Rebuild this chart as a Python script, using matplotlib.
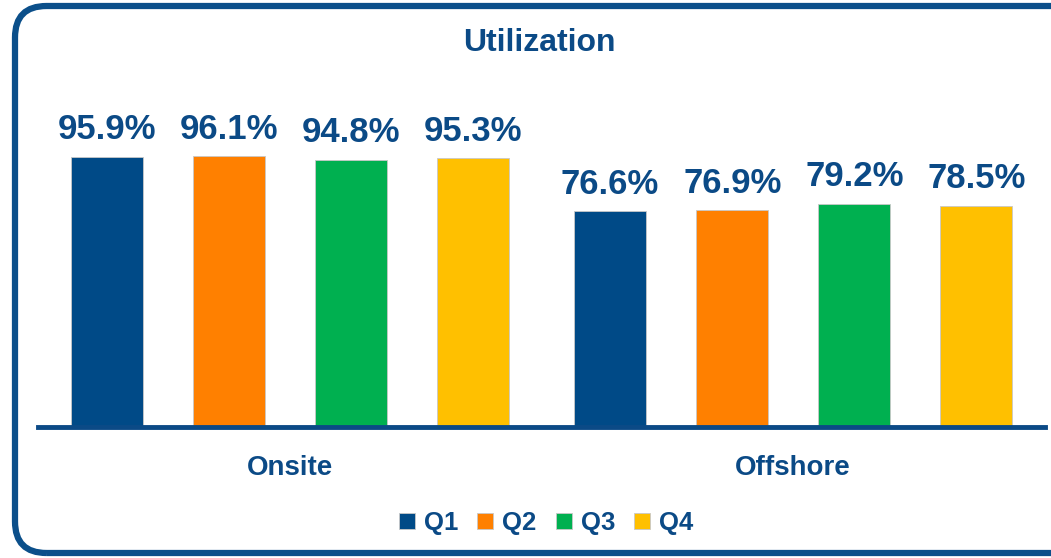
import matplotlib.pyplot as plt
import numpy as np
from matplotlib.patches import FancyBboxPatch
from matplotlib import font_manager

# data
categories = ['Onsite', 'Offshore']
quarters = ['Q1', 'Q2', 'Q3', 'Q4']
q1 = [95.9, 76.6]
q2 = [96.1, 76.9]
q3 = [94.8, 79.2]
q4 = [95.3, 78.5]
series = [q1, q2, q3, q4]
colors = ['#004A87', '#FF8000', '#00B050', '#FFC000']
text_blue = '#0B4A86'

names = {f.name for f in font_manager.fontManager.ttflist}
fam = 'Liberation Sans Narrow' if 'Liberation Sans Narrow' in names else 'Liberation Sans'
plt.rcParams['font.family'] = [fam, 'DejaVu Sans']

fig = plt.figure(figsize=(10.51, 5.58), dpi=100)
ax = fig.add_axes([38 / 1051, 131 / 558, 1007 / 1051, 282 / 558])

x = np.arange(len(categories))
step = 0.2425
width = 0.143
for i, (vals, c) in enumerate(zip(series, colors)):
    pos = x + (i - 1.5) * step
    bars = ax.bar(pos, vals, width, color=c, edgecolor='#c8c8c8', linewidth=0.6,
                  label=quarters[i], zorder=2)
    for b, v in zip(bars, vals):
        ax.text(b.get_x() + b.get_width() / 2, v + 3.7, f'{v:.1f}%', ha='center',
                va='bottom', fontsize=25, fontweight='bold', color=text_blue)

ax.set_xlim(-0.5, 1.5)
ax.set_ylim(0, 100)
ax.axis('off')
ax.axhline(0, color='#0B4A86', lw=3.5, zorder=3, clip_on=False)

for xi, cat in zip(x, categories):
    ax.text(xi, -14.5, cat, ha='center', va='center', fontsize=20, fontweight='bold',
            color=text_blue)

fig.text(539 / 1051, 1 - 43 / 558, 'Utilization', ha='center', va='center',
         fontsize=23, fontweight='bold', color=text_blue)

leg = fig.legend(loc='center', bbox_to_anchor=(546 / 1051, 1 - 523 / 558), ncol=4,
                 frameon=False, handlelength=0.62, handleheight=0.62, handletextpad=0.35,
                 columnspacing=0.75, prop={'size': 18.5, 'weight': 'bold'})
for t in leg.get_texts():
    t.set_color(text_blue)

border = FancyBboxPatch((15 / 1051, 5 / 558), 1.05, 547 / 558,
                        boxstyle='round,pad=0,rounding_size=0.03',
                        transform=fig.transFigure, fill=False, edgecolor='#0B4F8A',
                        linewidth=4.5, mutation_aspect=1051 / 558)
fig.patches.append(border)

fig.savefig('out.png', dpi=100)
